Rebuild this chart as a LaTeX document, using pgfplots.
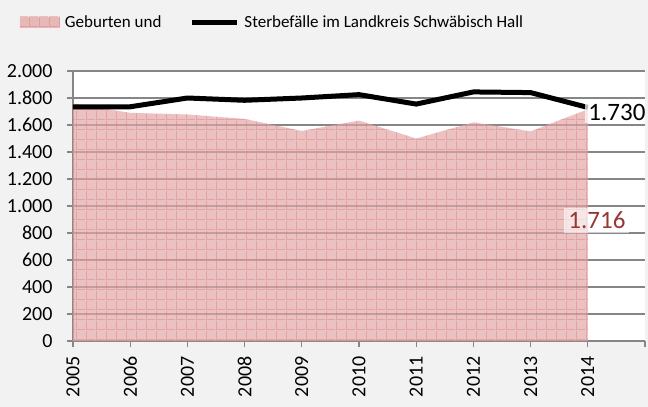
\documentclass[border=0pt]{standalone}
\usepackage{pgfplots}
\pgfplotsset{compat=1.18}
\usepackage{fontspec}
\setmainfont{Carlito}
\usetikzlibrary{patterns.meta}
\definecolor{bgc}{RGB}{242,242,242}
\definecolor{gridc}{RGB}{134,134,134}
\definecolor{areac}{RGB}{228,165,165}
\definecolor{patc}{RGB}{214,120,120}
\definecolor{lblred}{RGB}{150,55,53}
\tikzdeclarepattern{
  name=pgrid,
  type=uncolored,
  bounding box={(0,0) and (9.5bp,9.5bp)},
  tile size={(9.5bp,9.5bp)},
  code={
    \draw[line width=1bp] (0,0.5bp) -- (9.5bp,0.5bp);
    \draw[line width=1bp] (0.5bp,0) -- (0.5bp,9.5bp);
  }
}
\begin{document}
\begin{tikzpicture}
\fill[bgc] (-73bp,-66bp) rectangle (575bp,341bp);
\begin{axis}[
  at={(0,0)}, anchor=south west,
  scale only axis, width=572bp, height=270bp,
  xmin=2005, xmax=2015, ymin=0, ymax=2000,
  axis background/.style={fill=white},
  xtick={2005,2006,...,2015},
  xticklabels={2005,2006,2007,2008,2009,2010,2011,2012,2013,2014,{}},
  ytick={0,200,...,2000},
  scaled y ticks=false,
  /pgf/number format/.cd, 1000 sep={.}, assume math mode=true, /pgfplots/.cd,
  axis lines*=left,
  axis line style={-, draw=gridc, line width=1.3bp},
  tick style={draw=gridc, line width=1.2bp},
  tick align=outside,
  major tick length=6bp,
  ymajorgrids,
  grid style={draw=gridc, line width=1.5bp},
  tick label style={font=\fontsize{20bp}{24bp}\selectfont, text=black},
  x tick label style={rotate=90, anchor=east, xshift=-6bp},
  y tick label style={xshift=-11bp},
  legend style={at={(axis description cs:-0.0927,1.181)}, anchor=west,
    draw=none, fill=none, inner sep=0pt, outer sep=0pt,
    legend columns=2, font=\fontsize{17bp}{20bp}\selectfont,
    nodes={inner sep=0pt},
    /tikz/every odd column/.append style={column sep=5bp},
    /tikz/every even column/.append style={column sep=28bp}},
  legend cell align=left,
]
\addplot[draw=none, fill=areac, fill opacity=0.68,
  postaction={pattern=pgrid, pattern color=patc, fill opacity=0.4},
  legend image code/.code={\fill[areac, fill opacity=0.75] (0bp,-5.5bp) rectangle (40bp,5.5bp);}]
  coordinates {(2005,1760) (2006,1690) (2007,1678) (2008,1645) (2009,1556) (2010,1633) (2011,1500) (2012,1620) (2013,1553) (2014,1716)} \closedcycle;
\addlegendentry{Geburten und}
\addplot[black, line width=5bp, line join=round,
  legend image code/.code={\draw[black, line width=5bp] (0bp,0bp) -- (45bp,0bp);}]
  coordinates {(2005,1735) (2006,1735) (2007,1800) (2008,1783) (2009,1800) (2010,1825) (2011,1755) (2012,1845) (2013,1840) (2014,1730)};
\addlegendentry{Sterbefälle im Landkreis Schwäbisch Hall}
\node[fill=white, fill opacity=0.7, text opacity=1, inner sep=3bp,
  font=\fontsize{25bp}{30bp}\selectfont] at (axis cs:2014.51,1696) {1.730};
\node[fill=white, fill opacity=0.6, text opacity=1, text=lblred, inner sep=4bp,
  font=\fontsize{25bp}{30bp}\selectfont] at (axis cs:2014.16,896) {1.716};
\end{axis}
\pgfresetboundingbox
\path (-73bp,-66bp) rectangle (575bp,341bp);
\end{tikzpicture}
\end{document}
